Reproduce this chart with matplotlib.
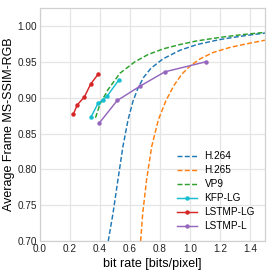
import matplotlib
matplotlib.use("Agg")
import matplotlib.pyplot as plt

# standard codecs
h264_x = [0.455, 0.487, 0.520, 0.553, 0.587, 0.620, 0.653, 0.690, 0.740, 0.820, 0.933, 1.047, 1.2, 1.353, 1.5]
h264_y = [0.700, 0.739, 0.786, 0.832, 0.869, 0.895, 0.913, 0.928, 0.941, 0.954, 0.966, 0.974, 0.981, 0.986, 0.990]

h265_x = [0.671, 0.685, 0.711, 0.745, 0.789, 0.840, 0.893, 0.947, 1.0, 1.067, 1.155, 1.267, 1.378, 1.5]
h265_y = [0.700, 0.739, 0.786, 0.832, 0.869, 0.896, 0.917, 0.933, 0.944, 0.954, 0.963, 0.970, 0.975, 0.980]

vp9_x = [0.370, 0.400, 0.453, 0.533, 0.633, 0.720, 0.822, 0.933, 1.044, 1.2, 1.356, 1.5]
vp9_y = [0.872, 0.891, 0.911, 0.934, 0.950, 0.960, 0.968, 0.974, 0.979, 0.984, 0.988, 0.991]

# learned models
kfp_x = [0.340, 0.387, 0.420, 0.447, 0.527]
kfp_y = [0.873, 0.892, 0.897, 0.902, 0.925]

lstmp_lg_x = [0.222, 0.249, 0.296, 0.338, 0.389]
lstmp_lg_y = [0.877, 0.890, 0.901, 0.919, 0.933]

lstmp_l_x = [0.393, 0.515, 0.667, 0.833, 1.107]
lstmp_l_y = [0.864, 0.896, 0.916, 0.936, 0.950]

plt.rcParams['font.family'] = ['Liberation Sans', 'DejaVu Sans']

fig = plt.figure(figsize=(2.74, 2.74), dpi=100)
ax = fig.add_axes([0.146, 0.120, 0.821, 0.851])

dash = (3.4, 1.6)
ax.plot(h264_x, h264_y, '--', color='#1f77b4', lw=1.05, dashes=dash, label='H.264')
ax.plot(h265_x, h265_y, '--', color='#ff7f0e', lw=1.05, dashes=dash, label='H.265')
ax.plot(vp9_x, vp9_y, '--', color='#2ca02c', lw=1.05, dashes=dash, label='VP9')
ax.plot(kfp_x, kfp_y, '-o', color='#17becf', lw=1.05, ms=2.2, label='KFP-LG')
ax.plot(lstmp_lg_x, lstmp_lg_y, '-o', color='#d62728', lw=1.05, ms=2.2, label='LSTMP-LG')
ax.plot(lstmp_l_x, lstmp_l_y, '-o', color='#9467bd', lw=1.05, ms=2.2, label='LSTMP-L')

ax.set_xlim(0, 1.5)
ax.set_ylim(0.70, 1.025)
ax.set_xticks([0.0, 0.2, 0.4, 0.6, 0.8, 1.0, 1.2, 1.4])
ax.set_yticks([0.70, 0.75, 0.80, 0.85, 0.90, 0.95, 1.00])
ax.tick_params(labelsize=7.2, length=0, pad=2, colors='#222222')
ax.grid(True, color='#e5e5e5', lw=0.9)
ax.set_axisbelow(True)
for s in ax.spines.values():
    s.set_color('#d0d0d0')
    s.set_linewidth(0.9)

ax.set_xlabel('bit rate [bits/pixel]', fontsize=9, labelpad=3)
ax.set_ylabel('Average Frame MS-SSIM-RGB', fontsize=9, labelpad=2)

ax.legend(loc='lower right', fontsize=7.2, frameon=False, handlelength=2.0,
          labelspacing=0.4, borderaxespad=0.6)

fig.savefig('out.png', dpi=100)
